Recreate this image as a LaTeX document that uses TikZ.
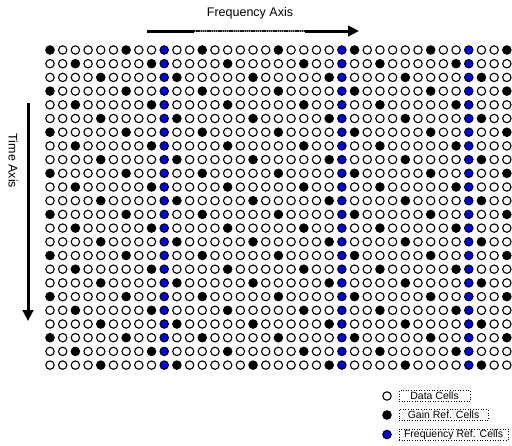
\documentclass[tikz,border=0pt]{standalone}
\usepackage{xcolor}
\usepackage{fontspec}
\setmainfont{Liberation Sans}
\usepackage{tikz}
\usetikzlibrary{positioning,arrows.meta}

\tikzset{
  cell/.style={circle, draw=black, line width=1.1pt, minimum size=8.4pt, inner sep=0pt},
  datacell/.style={cell, fill=white},
  gaincell/.style={cell, fill=black},
  freqcell/.style={cell, fill=blue},
  legbox/.style={draw, dotted, line width=0.6pt, inner xsep=2pt, inner ysep=0pt,
    minimum height=11pt, font=\fontsize{10.5}{11}\selectfont},
  axis/.style={line width=3pt},
}

\begin{document}
\begin{tikzpicture}[x=1pt, y=-1pt, >={Triangle[length=11pt,width=10.5pt]}]
  \useasboundingbox (0,0) rectangle (512,445);

  % axes
  \node (freqlabel) at (250,13) {\fontsize{12.5}{14}\selectfont Frequency Axis};
  \coordinate (f0) at (147,31);
  \coordinate (f1) at (194,31);
  \coordinate (f2) at (305,31);
  \coordinate (f3) at (359,31);
  \draw[axis] (f0) -- (f1);
  \draw[line width=2.6pt, black!45] (f1) -- (f2);
  \draw[line width=2.6pt, black!90, dash pattern=on 1.3pt off 0.9pt] (f1) -- (f2);
  \draw[axis, ->] (f2) -- (f3);

  \node[rotate=-90] (timelabel) at (13,161) {\fontsize{12.5}{14}\selectfont Time Axis};
  \coordinate (t0) at (28,103);
  \coordinate (t1) at (28,321);
  \draw[axis, ->] (t0) -- (t1);

  % grid of cells
  \foreach \r in {0,...,23}
    \foreach \c in {0,...,36} {
      \pgfmathtruncatemacro\isgain{mod(\c+6-2*mod(\r,3),6)==0}
      \pgfmathtruncatemacro\isfreq{(\c==9)||(\c==23)||(\c==33)}
      \ifnum\isfreq=1 \def\kind{freqcell}\else
        \ifnum\isgain=1 \def\kind{gaincell}\else\def\kind{datacell}\fi\fi
      \node[\kind] (cell-\r-\c) at ({50+12.69*\c},{50+13.7*\r}) {};
    }

  % legend
  \node[datacell] (legdata) at (387,396) {};
  \node[gaincell] (leggain) at (387,415) {};
  \node[freqcell] (legfreq) at (387,434.5) {};
  \node[legbox, minimum width=71pt, right=7pt of legdata] (txtdata) {Data Cells};
  \node[legbox, minimum width=89pt, right=7pt of leggain] (txtgain) {Gain Ref. Cells};
  \node[legbox, minimum width=109pt, right=7pt of legfreq] (txtfreq) {Frequency Ref. Cells};
\end{tikzpicture}
\end{document}
